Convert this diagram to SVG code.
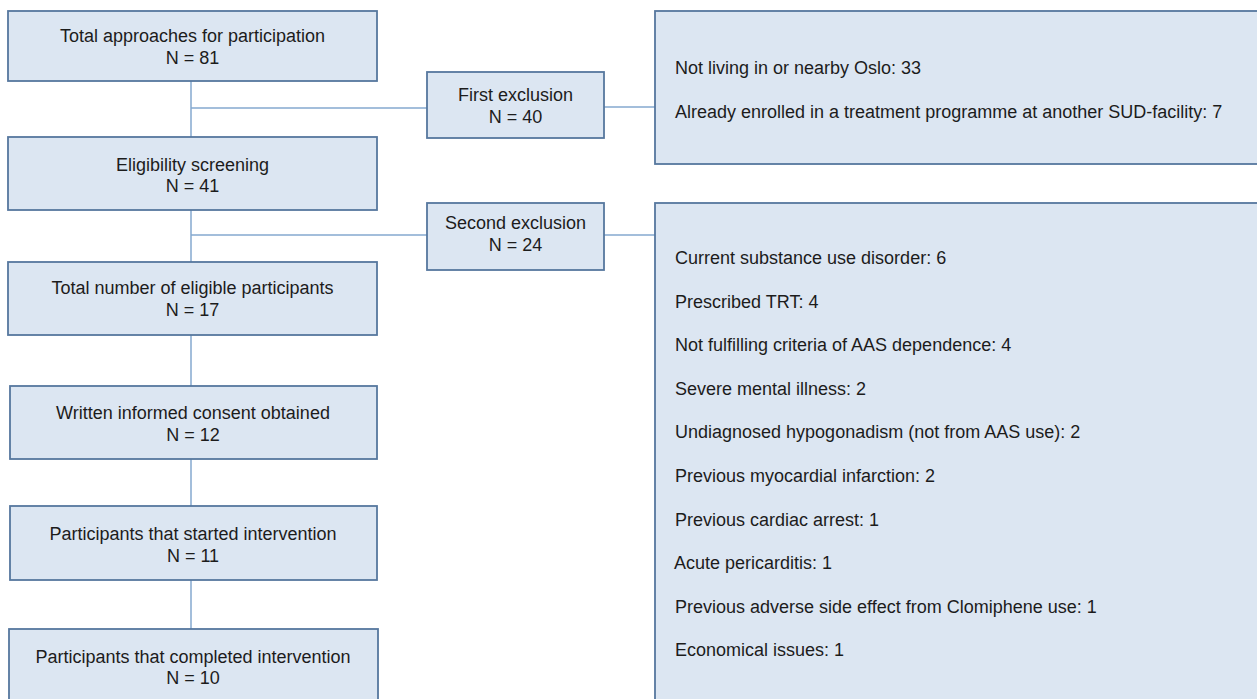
<svg xmlns="http://www.w3.org/2000/svg" width="1257" height="699" viewBox="0 0 1257 699">
<style>
.box{fill:#dce6f2;stroke:#56779e;stroke-width:1.8}
.c{fill:none;stroke:#84a8cf;stroke-width:1.5}
text{font-family:"Liberation Sans",Arial,sans-serif;font-size:18px;fill:#1c1c1c}
.m{text-anchor:middle}
</style>
<rect width="1257" height="699" fill="#ffffff"/>
<g id="connectors">
<line class="c" x1="191" y1="81" x2="191" y2="137"/>
<line class="c" x1="191" y1="108" x2="427" y2="108"/>
<line class="c" x1="604" y1="107" x2="655" y2="107"/>
<line class="c" x1="191" y1="210" x2="191" y2="262"/>
<line class="c" x1="191" y1="235" x2="427" y2="235"/>
<line class="c" x1="604" y1="235" x2="655" y2="235"/>
<line class="c" x1="191" y1="335" x2="191" y2="386"/>
<line class="c" x1="191" y1="459" x2="191" y2="506"/>
<line class="c" x1="191" y1="580" x2="191" y2="629"/>
</g>
<g id="n1"><rect class="box" x="8" y="11" width="369" height="70"/><text class="m" x="192.5" y="42">Total approaches for participation</text><text class="m" x="192.5" y="64">N = 81</text></g>
<g id="n2"><rect class="box" x="8" y="137" width="369" height="73"/><text class="m" x="192.5" y="171">Eligibility screening</text><text class="m" x="192.5" y="192">N = 41</text></g>
<g id="n3"><rect class="box" x="8" y="262" width="369" height="73"/><text class="m" x="192.5" y="294">Total number of eligible participants</text><text class="m" x="192.5" y="316">N = 17</text></g>
<g id="n4"><rect class="box" x="10" y="386" width="367" height="73"/><text class="m" x="193" y="419">Written informed consent obtained</text><text class="m" x="193" y="441">N = 12</text></g>
<g id="n5"><rect class="box" x="10" y="506" width="367" height="74"/><text class="m" x="193" y="540">Participants that started intervention</text><text class="m" x="193" y="562">N = 11</text></g>
<g id="n6"><rect class="box" x="9" y="629" width="369" height="80"/><text class="m" x="193" y="663">Participants that completed intervention</text><text class="m" x="193" y="684">N = 10</text></g>
<g id="fe"><rect class="box" x="427" y="72" width="177" height="66"/><text class="m" x="515.5" y="101">First exclusion</text><text class="m" x="515.5" y="123">N = 40</text></g>
<g id="se"><rect class="box" x="427" y="203" width="177" height="67"/><text class="m" x="515.5" y="229">Second exclusion</text><text class="m" x="515.5" y="251">N = 24</text></g>
<g id="r1"><rect class="box" x="655" y="11" width="620" height="153"/>
<text x="675" y="74">Not living in or nearby Oslo: 33</text>
<text x="675" y="117.6">Already enrolled in a treatment programme at another SUD-facility: 7</text></g>
<g id="r2"><rect class="box" x="655" y="203" width="620" height="520"/>
<text x="675" y="264">Current substance use disorder: 6</text>
<text x="675" y="307.6">Prescribed TRT: 4</text>
<text x="675" y="351.2">Not fulfilling criteria of AAS dependence: 4</text>
<text x="675" y="394.8">Severe mental illness: 2</text>
<text x="675" y="438.4">Undiagnosed hypogonadism (not from AAS use): 2</text>
<text x="675" y="482">Previous myocardial infarction: 2</text>
<text x="675" y="525.6">Previous cardiac arrest: 1</text>
<text x="674" y="569.2">Acute pericarditis: 1</text>
<text x="675" y="612.8">Previous adverse side effect from Clomiphene use: 1</text>
<text x="675" y="656.4">Economical issues: 1</text></g>
</svg>
